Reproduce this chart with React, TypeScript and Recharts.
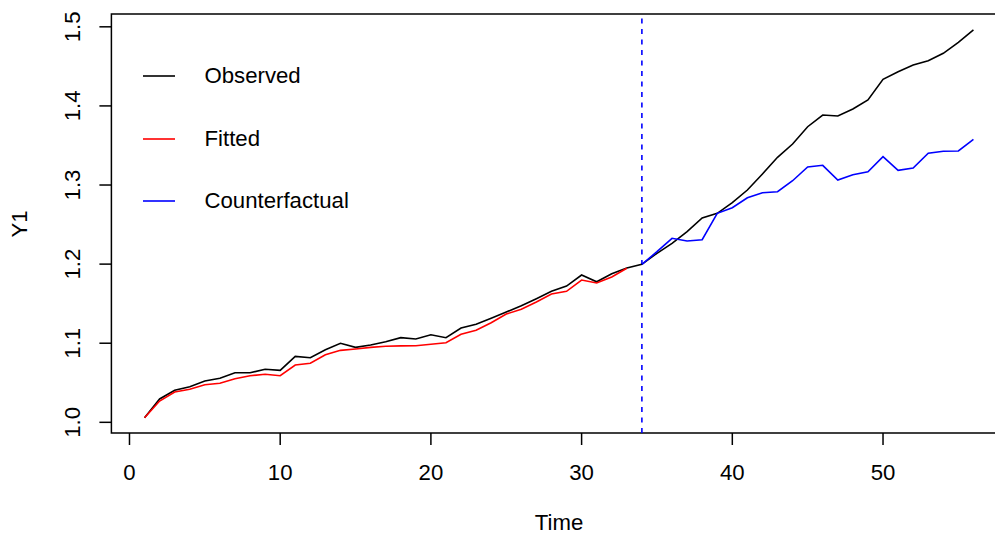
import { LineChart, Line, XAxis, YAxis, ReferenceLine, ReferenceArea } from 'recharts';

const observed = [
  1.0058, 1.0295, 1.0405, 1.045, 1.0522, 1.0556, 1.0627, 1.0627, 1.067, 1.0657,
  1.0834, 1.0817, 1.0918, 1.0999, 1.0948, 1.0977, 1.1019, 1.107, 1.1053, 1.1107,
  1.107, 1.1192, 1.1239, 1.1315, 1.1394, 1.1474, 1.1563, 1.1656, 1.1723, 1.1862,
  1.1777, 1.1879, 1.1951, 1.1997, 1.2137, 1.2263, 1.241, 1.2583, 1.2642, 1.2776,
  1.2937, 1.3139, 1.335, 1.3518, 1.3737, 1.3885, 1.3872, 1.3961, 1.4075, 1.4336,
  1.4432, 1.4517, 1.4571, 1.4665, 1.4804, 1.496,
];

// fitted covers t = 1..33
const fitted = [
  1.0058, 1.0269, 1.0383, 1.0417, 1.0475, 1.0493, 1.0551, 1.0589, 1.0607, 1.0589,
  1.0724, 1.0746, 1.0855, 1.091, 1.0927, 1.0948, 1.0961, 1.0966, 1.0968, 1.0986,
  1.1006, 1.1113, 1.1163, 1.1259, 1.1369, 1.1429, 1.1521, 1.1622, 1.1656, 1.1799,
  1.1761, 1.1837, 1.1947,
];

// counterfactual covers t = 34..56
const counterfactual = [
  1.1997, 1.2157, 1.2326, 1.2292, 1.2308, 1.2642, 1.2713, 1.2839, 1.2903, 1.2915,
  1.3054, 1.3228, 1.3249, 1.3063, 1.313, 1.3168, 1.3358, 1.3186, 1.3215, 1.3401,
  1.3426, 1.343, 1.3578,
];

const interventionTime = 34;
const xTicks = [0, 10, 20, 30, 40, 50];
const yTicks = [1.0, 1.1, 1.2, 1.3, 1.4, 1.5];
const legendItems = [
  { name: 'Observed', color: '#000000' },
  { name: 'Fitted', color: '#ff0000' },
  { name: 'Counterfactual', color: '#0000ff' },
];

const data = observed.map((v, i) => {
  const time = i + 1;
  return {
    time,
    observed: v,
    fitted: time <= fitted.length ? fitted[i] : undefined,
    counterfactual: time >= interventionTime ? counterfactual[time - interventionTime] : undefined,
  };
});

const FONT = '"Liberation Sans", Arial, Helvetica, sans-serif';
const FS = 22.2;
const X_DOMAIN = [-1.2, 58.2];
const Y_DOMAIN = [0.9865, 1.5162];

function XTick({ x, payload }: any) {
  return (
    <text x={x} y={472} textAnchor="middle" dominantBaseline="central" fontSize={FS} fontFamily={FONT} fill="#000">
      {payload.value}
    </text>
  );
}

function YTick({ y, payload }: any) {
  return (
    <text
      x={73}
      y={y}
      transform={`rotate(-90 73 ${y})`}
      textAnchor="middle"
      dominantBaseline="central"
      fontSize={FS}
      fontFamily={FONT}
      fill="#000"
    >
      {payload.value.toFixed(1)}
    </text>
  );
}

export default function App() {
  return (
    <div style={{ position: 'absolute', left: 0, top: 0, width: 995, height: 536, overflow: 'hidden', background: '#fff', fontFamily: FONT }}>
      <LineChart width={1012} height={536} data={data} margin={{ top: 14, right: 5.4, bottom: 73, left: 51.4 }}>
        <XAxis
          dataKey="time"
          type="number"
          domain={X_DOMAIN}
          ticks={xTicks}
          allowDataOverflow
          axisLine={false}
          tickLine={{ stroke: '#000', strokeWidth: 1.5 }}
          tickSize={12}
          tick={<XTick />}
          height={30}
        />
        <YAxis
          type="number"
          domain={Y_DOMAIN}
          ticks={yTicks}
          allowDataOverflow
          axisLine={false}
          tickLine={{ stroke: '#000', strokeWidth: 1.5 }}
          tickSize={12}
          tick={<YTick />}
          width={60}
        />
        <ReferenceArea
          x1={X_DOMAIN[0]}
          x2={X_DOMAIN[1]}
          y1={Y_DOMAIN[0]}
          y2={Y_DOMAIN[1]}
          fill="none"
          stroke="#000"
          strokeWidth={1.5}
          ifOverflow="visible"
        />
        <ReferenceLine x={interventionTime} stroke="#0000ff" strokeWidth={1.6} strokeDasharray="5 5.5" />
        <Line type="linear" dataKey="observed" stroke="#000000" strokeWidth={1.6} dot={false} isAnimationActive={false} />
        <Line type="linear" dataKey="fitted" stroke="#ff0000" strokeWidth={1.6} dot={false} isAnimationActive={false} />
        <Line type="linear" dataKey="counterfactual" stroke="#0000ff" strokeWidth={1.6} dot={false} isAnimationActive={false} />
      </LineChart>

      {legendItems.map((item, i) => (
        <div key={item.name} style={{ position: 'absolute', left: 142.5, top: 61 + i * 62.5, height: 30, display: 'flex', alignItems: 'center' }}>
          <svg width={32} height={30} style={{ display: 'block' }}>
            <line x1={0} x2={32} y1={15} y2={15} stroke={item.color} strokeWidth={1.6} />
          </svg>
          <span style={{ marginLeft: 30, fontSize: FS, color: '#000', whiteSpace: 'nowrap' }}>{item.name}</span>
        </div>
      ))}

      <div style={{ position: 'absolute', left: 20, top: 223.5, transform: 'translate(-50%, -50%) rotate(-90deg)', fontSize: FS, whiteSpace: 'nowrap' }}>
        Y1
      </div>
      <div style={{ position: 'absolute', left: 559, top: 523, transform: 'translate(-50%, -50%)', fontSize: FS, whiteSpace: 'nowrap' }}>
        Time
      </div>
    </div>
  );
}
